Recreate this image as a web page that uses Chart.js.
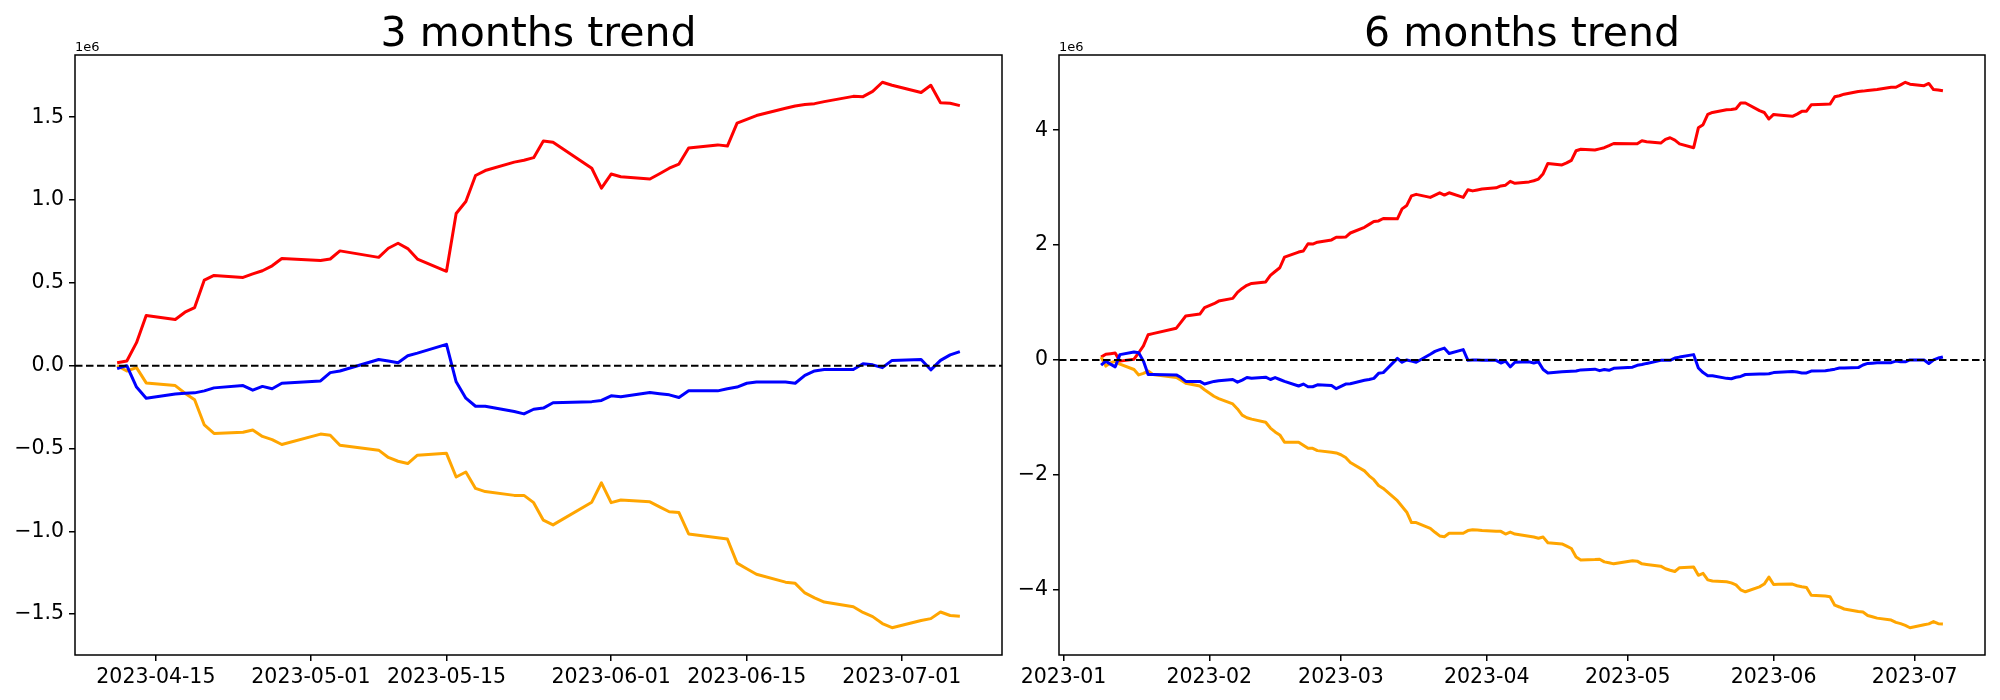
<!DOCTYPE html>
<html lang="en">
<head>
<meta charset="UTF-8">
<title>3 / 6 months trend</title>
<script src="https://cdn.jsdelivr.net/npm/chart.js"></script>
<style>
    * { margin: 0; padding: 0; box-sizing: border-box; }
    body { width: 2000px; height: 700px; background: #fff; overflow: hidden; position: relative; }
    canvas { position: absolute; top: 0; }
    #left { left: 0; }
    #right { left: 1000px; }
</style>
</head>
<body>
<canvas id="left" width="1020" height="700"></canvas>
<canvas id="right" width="1000" height="700"></canvas>
<script>
// ---- 3 months (values in 1e6) ----
const dates3 = [
    '2023-04-11','2023-04-12','2023-04-13','2023-04-14',
    '2023-04-17','2023-04-18','2023-04-19','2023-04-20','2023-04-21',
    '2023-04-24','2023-04-25','2023-04-26','2023-04-27','2023-04-28',
    '2023-05-02','2023-05-03','2023-05-04',
    '2023-05-08','2023-05-09','2023-05-10','2023-05-11','2023-05-12',
    '2023-05-15','2023-05-16','2023-05-17','2023-05-18','2023-05-19',
    '2023-05-22','2023-05-23','2023-05-24','2023-05-25','2023-05-26',
    '2023-05-30','2023-05-31','2023-06-01','2023-06-02',
    '2023-06-05','2023-06-06','2023-06-07','2023-06-08','2023-06-09',
    '2023-06-12','2023-06-13','2023-06-14','2023-06-15','2023-06-16',
    '2023-06-19','2023-06-20','2023-06-21','2023-06-22','2023-06-23',
    '2023-06-26','2023-06-27','2023-06-28','2023-06-29','2023-06-30',
    '2023-07-03','2023-07-04','2023-07-05','2023-07-06','2023-07-07'
];
const red3 = [
    0.018, 0.028, 0.139, 0.303,
    0.279, 0.323, 0.351, 0.517, 0.545,
    0.533, 0.554, 0.573, 0.603, 0.647,
    0.635, 0.644, 0.693,
    0.654, 0.709, 0.739, 0.707, 0.644,
    0.570, 0.919, 0.991, 1.148, 1.178,
    1.229, 1.240, 1.256, 1.356, 1.349,
    1.192, 1.072, 1.157, 1.141,
    1.127, 1.159, 1.192, 1.217, 1.314,
    1.333, 1.326, 1.464, 1.487, 1.510,
    1.554, 1.568, 1.577, 1.582, 1.594,
    1.626, 1.624, 1.656, 1.711, 1.693,
    1.649, 1.693, 1.587, 1.584, 1.570
];
const orange3 = [
    0.0, -0.032, -0.012, -0.104,
    -0.120, -0.166, -0.206, -0.358, -0.409,
    -0.402, -0.388, -0.427, -0.446, -0.476,
    -0.413, -0.420, -0.480,
    -0.510, -0.554, -0.577, -0.591, -0.540,
    -0.529, -0.672, -0.642, -0.741, -0.760,
    -0.783, -0.783, -0.827, -0.933, -0.961,
    -0.824, -0.707, -0.827, -0.811,
    -0.822, -0.852, -0.882, -0.887, -1.016,
    -1.039, -1.046, -1.192, -1.226, -1.259,
    -1.307, -1.314, -1.372, -1.402, -1.427,
    -1.455, -1.490, -1.515, -1.557, -1.582,
    -1.538, -1.527, -1.487, -1.508, -1.513
];
const blue3 = [
    -0.018, 0.0, -0.129, -0.196,
    -0.171, -0.166, -0.164, -0.152, -0.134,
    -0.120, -0.148, -0.125, -0.139, -0.106,
    -0.092, -0.042, -0.032,
    0.037, 0.028, 0.018, 0.060, 0.076,
    0.129, -0.097, -0.196, -0.245, -0.245,
    -0.277, -0.291, -0.263, -0.256, -0.224,
    -0.217, -0.210, -0.182, -0.187,
    -0.162, -0.169, -0.176, -0.192, -0.152,
    -0.152, -0.139, -0.129, -0.106, -0.099,
    -0.099, -0.106, -0.058, -0.032, -0.023,
    -0.023, 0.012, 0.005, -0.012, 0.032,
    0.037, -0.025, 0.032, 0.065, 0.085
];
const xTicks3 = ['2023-04-15', '2023-05-01', '2023-05-15', '2023-06-01', '2023-06-15', '2023-07-01'];
const xLabels3 = ['2023-04-15', '2023-05-01', '2023-05-15', '2023-06-01', '2023-06-15', '2023-07-01'];
const yTicks3 = [-1.5, -1.0, -0.5, 0.0, 0.5, 1.0, 1.5];

// ---- 6 months (values in 1e6) ----
const dates6 = [
    '2023-01-09','2023-01-10','2023-01-11','2023-01-12','2023-01-13',
    '2023-01-16','2023-01-17','2023-01-18','2023-01-19','2023-01-20',
    '2023-01-25','2023-01-26','2023-01-27','2023-01-30','2023-01-31',
    '2023-02-02','2023-02-03','2023-02-06','2023-02-07','2023-02-08','2023-02-09','2023-02-10',
    '2023-02-13','2023-02-14','2023-02-15','2023-02-16','2023-02-17',
    '2023-02-20','2023-02-21','2023-02-22','2023-02-23','2023-02-24','2023-02-27','2023-02-28',
    '2023-03-01','2023-03-02','2023-03-03','2023-03-06','2023-03-07','2023-03-08','2023-03-09','2023-03-10',
    '2023-03-13','2023-03-14','2023-03-15','2023-03-16','2023-03-17',
    '2023-03-20','2023-03-21','2023-03-22','2023-03-23','2023-03-24',
    '2023-03-27','2023-03-28','2023-03-29','2023-03-30','2023-03-31',
    '2023-04-03','2023-04-04','2023-04-05','2023-04-06','2023-04-07',
    '2023-04-10','2023-04-11','2023-04-12','2023-04-13','2023-04-14',
    '2023-04-17','2023-04-18','2023-04-19','2023-04-20','2023-04-21',
    '2023-04-24','2023-04-25','2023-04-26','2023-04-27','2023-04-28',
    '2023-05-02','2023-05-03','2023-05-04','2023-05-05',
    '2023-05-08','2023-05-09','2023-05-10','2023-05-11','2023-05-12',
    '2023-05-15','2023-05-16','2023-05-17','2023-05-18','2023-05-19',
    '2023-05-22','2023-05-23','2023-05-24','2023-05-25','2023-05-26',
    '2023-05-29','2023-05-30','2023-05-31','2023-06-01','2023-06-02',
    '2023-06-05','2023-06-06','2023-06-07','2023-06-08','2023-06-09',
    '2023-06-12','2023-06-13','2023-06-14','2023-06-15','2023-06-16',
    '2023-06-19','2023-06-20','2023-06-21','2023-06-22','2023-06-23',
    '2023-06-26','2023-06-27','2023-06-28','2023-06-29','2023-06-30',
    '2023-07-03','2023-07-04','2023-07-05','2023-07-06','2023-07-07'
];
const red6 = [
    0.05, 0.10, 0.11, 0.12, -0.02,
    0.013, 0.126, 0.246, 0.439, 0.459,
    0.553, 0.66, 0.766, 0.80, 0.912,
    0.979, 1.025, 1.072, 1.178, 1.245, 1.30, 1.332,
    1.358, 1.471, 1.54, 1.605, 1.791,
    1.878, 1.897, 2.024, 2.017, 2.05, 2.09, 2.137,
    2.137, 2.14, 2.21, 2.31, 2.36, 2.41, 2.42, 2.463,
    2.457, 2.63, 2.69, 2.856, 2.883,
    2.83, 2.87, 2.91, 2.87, 2.91,
    2.83, 2.963, 2.943, 2.96, 2.975,
    2.996, 3.03, 3.043, 3.11, 3.076,
    3.10, 3.12, 3.149, 3.242, 3.422,
    3.395, 3.43, 3.475, 3.642, 3.668,
    3.655, 3.675, 3.695, 3.73, 3.768,
    3.765, 3.762, 3.815, 3.80,
    3.775, 3.841, 3.868, 3.828, 3.762,
    3.695, 4.041, 4.095, 4.274, 4.308,
    4.354, 4.36, 4.374, 4.474, 4.474,
    4.34, 4.308, 4.194, 4.274, 4.265,
    4.241, 4.28, 4.328, 4.33, 4.441,
    4.45, 4.454, 4.581, 4.60, 4.627,
    4.675, 4.68, 4.69, 4.70, 4.71,
    4.747, 4.747, 4.79, 4.834, 4.80,
    4.774, 4.814, 4.707, 4.70, 4.687
];
const orange6 = [
    0.05, -0.106, -0.053, -0.02, -0.073,
    -0.166, -0.26, -0.233, -0.193, -0.253,
    -0.306, -0.353, -0.406, -0.453, -0.519,
    -0.632, -0.672, -0.766, -0.852, -0.96, -1.005, -1.03,
    -1.085, -1.185, -1.252, -1.305, -1.431,
    -1.431, -1.485, -1.538, -1.538, -1.578, -1.605, -1.618,
    -1.65, -1.698, -1.784, -1.931, -2.017, -2.084, -2.184, -2.237,
    -2.45, -2.55, -2.65, -2.83, -2.83,
    -2.93, -3.0, -3.063, -3.076, -3.016,
    -3.016, -2.97, -2.956, -2.96, -2.97,
    -2.983, -2.983, -3.03, -2.996, -3.03,
    -3.069, -3.083, -3.103, -3.083, -3.183,
    -3.202, -3.24, -3.282, -3.429, -3.482,
    -3.475, -3.469, -3.515, -3.53, -3.549,
    -3.495, -3.502, -3.549, -3.56,
    -3.589, -3.635, -3.66, -3.682, -3.615,
    -3.602, -3.748, -3.715, -3.828, -3.848,
    -3.862, -3.88, -3.915, -4.0, -4.035,
    -3.95, -3.901, -3.78, -3.908, -3.905,
    -3.901, -3.93, -3.948, -3.961, -4.095,
    -4.11, -4.121, -4.268, -4.30, -4.335,
    -4.38, -4.388, -4.447, -4.47, -4.494,
    -4.528, -4.567, -4.59, -4.621, -4.661,
    -4.61, -4.594, -4.554, -4.59, -4.594
];
const blue6 = [
    -0.09, -0.02, -0.073, -0.12, 0.093,
    0.14, 0.126, -0.02, -0.253, -0.255,
    -0.26, -0.306, -0.373, -0.373, -0.419,
    -0.373, -0.36, -0.34, -0.386, -0.35, -0.306, -0.32,
    -0.30, -0.34, -0.306, -0.34, -0.373,
    -0.453, -0.419, -0.466, -0.466, -0.433, -0.446, -0.499,
    -0.46, -0.419, -0.413, -0.353, -0.34, -0.32, -0.233, -0.22,
    0.027, -0.04, 0.0, -0.02, -0.04,
    0.10, 0.15, 0.18, 0.206, 0.113,
    0.18, -0.007, 0.0, 0.0, -0.003,
    -0.007, -0.053, -0.02, -0.12, -0.04,
    -0.033, -0.053, -0.033, -0.166, -0.226,
    -0.206, -0.20, -0.196, -0.193, -0.173,
    -0.16, -0.186, -0.166, -0.18, -0.146,
    -0.126, -0.093, -0.08, -0.06,
    -0.007, -0.007, -0.007, 0.033, 0.05,
    0.093, -0.14, -0.22, -0.273, -0.273,
    -0.32, -0.326, -0.30, -0.286, -0.253,
    -0.245, -0.243, -0.24, -0.22, -0.215,
    -0.20, -0.21, -0.226, -0.226, -0.193,
    -0.186, -0.175, -0.16, -0.14, -0.14,
    -0.133, -0.087, -0.06, -0.055, -0.05,
    -0.047, -0.02, -0.03, -0.033, 0.0,
    0.0, -0.06, 0.0, 0.033, 0.053
];
const xTicks6 = ['2023-01-01', '2023-02-01', '2023-03-01', '2023-04-01', '2023-05-01', '2023-06-01', '2023-07-01'];
const xLabels6 = ['2023-01', '2023-02', '2023-03', '2023-04', '2023-05', '2023-06', '2023-07'];
const yTicks6 = [-4, -2, 0, 2, 4];

// ---- helpers ----
const DAY = 86400000;
function toDay(s) { return Date.parse(s + 'T00:00:00Z') / DAY; }
function fmtMinus(s) { return s.replace('-', '\u2212'); }

Chart.defaults.font.family = '"DejaVu Sans", sans-serif';
Chart.defaults.font.size = 20.5;
Chart.defaults.color = '#000';

// dashed zero line, axes box, title and the 1e6 offset text
const framePlugin = {
    id: 'frame',
    afterDatasetsDraw(chart, args, opts) {
        const ctx = chart.ctx;
        const a = chart.chartArea;
        const y0 = chart.scales.y.getPixelForValue(0);
        ctx.save();
        ctx.strokeStyle = '#000';
        ctx.lineWidth = 2;
        ctx.setLineDash([7.5, 3.5]);
        ctx.beginPath();
        ctx.moveTo(a.left, y0);
        ctx.lineTo(a.right, y0);
        ctx.stroke();
        ctx.setLineDash([]);
        ctx.lineWidth = 1.5;
        ctx.strokeRect(a.left, a.top, a.right - a.left, a.bottom - a.top);
        ctx.fillStyle = '#000';
        ctx.textAlign = 'center';
        ctx.textBaseline = 'alphabetic';
        ctx.font = '41px "DejaVu Sans"';
        ctx.fillText(opts.title, (a.left + a.right) / 2, 46);
        ctx.textAlign = 'left';
        ctx.font = '13px "DejaVu Sans"';
        ctx.fillText('1e6', a.left, 51);
        ctx.restore();
    }
};

// matplotlib style 5% margins
function range(values, margin) {
    const lo = Math.min(...values), hi = Math.max(...values);
    const pad = (hi - lo) * margin;
    return [lo - pad, hi + pad];
}

function buildChart(id, cfg) {
    const pts = arr => cfg.dates.map((d, i) => ({ x: toDay(d), y: arr[i] }));
    const [xMin, xMax] = range(cfg.dates.map(toDay), 0.05);
    const [yMin, yMax] = range(cfg.red.concat(cfg.orange, cfg.blue), 0.05);
    const tickGrid = { display: true, drawOnChartArea: false, drawTicks: true, tickLength: 6, color: '#000', lineWidth: 1.5 };

    return new Chart(document.getElementById(id), {
        type: 'line',
        data: {
            datasets: [
                { data: pts(cfg.red), borderColor: '#ff0000', order: 3 },
                { data: pts(cfg.orange), borderColor: '#ffa500', order: 2 },
                { data: pts(cfg.blue), borderColor: '#0000ff', order: 1 }
            ]
        },
        options: {
            responsive: false,
            animation: false,
            devicePixelRatio: 1,
            layout: { padding: { top: 55, right: cfg.padRight, left: 0, bottom: 0 } },
            elements: {
                point: { radius: 0 },
                line: { borderWidth: 3, tension: 0, borderJoinStyle: 'round', fill: false }
            },
            plugins: {
                legend: { display: false },
                tooltip: { enabled: false },
                frame: { title: cfg.title }
            },
            scales: {
                x: {
                    type: 'linear',
                    min: xMin,
                    max: xMax,
                    grid: tickGrid,
                    border: { display: false },
                    ticks: {
                        padding: 4,
                        autoSkip: false,
                        maxRotation: 0,
                        callback: (v, i) => cfg.xLabels[i]
                    },
                    afterBuildTicks: s => { s.ticks = cfg.xTicks.map(d => ({ value: toDay(d) })); },
                    afterFit: s => { s.height = 45; }
                },
                y: {
                    type: 'linear',
                    min: yMin,
                    max: yMax,
                    grid: tickGrid,
                    border: { display: false },
                    ticks: {
                        padding: 5,
                        callback: v => fmtMinus(v.toFixed(cfg.yDigits))
                    },
                    afterBuildTicks: s => { s.ticks = cfg.yTicks.map(v => ({ value: v })); },
                    afterFit: s => { s.width = cfg.yWidth; }
                }
            }
        },
        plugins: [framePlugin]
    });
}

buildChart('left', {
    title: '3 months trend',
    dates: dates3, red: red3, orange: orange3, blue: blue3,
    xTicks: xTicks3, xLabels: xLabels3, yTicks: yTicks3,
    yDigits: 1, yWidth: 75, padRight: 18
});

buildChart('right', {
    title: '6 months trend',
    dates: dates6, red: red6, orange: orange6, blue: blue6,
    xTicks: xTicks6, xLabels: xLabels6, yTicks: yTicks6,
    yDigits: 0, yWidth: 59, padRight: 15
});
</script>
</body>
</html>
